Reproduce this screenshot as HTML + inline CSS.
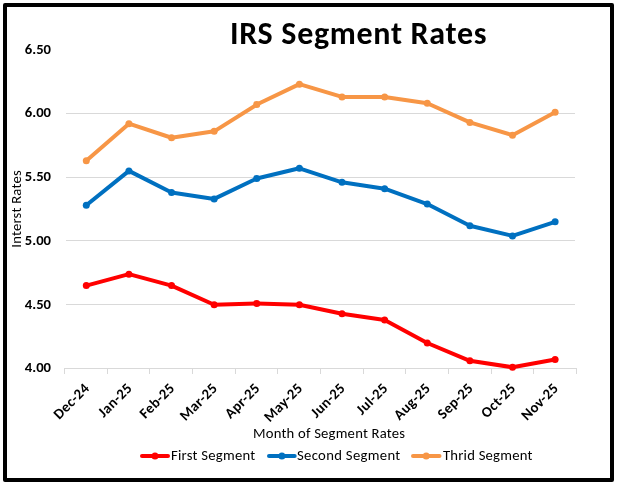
<!DOCTYPE html><html><head><meta charset="utf-8"><title>IRS Segment Rates</title>
<style>html,body{margin:0;padding:0;background:#fff;}svg{display:block;will-change:transform;}text{font-family:Carlito, 'Liberation Sans', sans-serif;}</style></head><body>
<svg width="617" height="484" viewBox="0 0 617 484">
<rect x="0" y="0" width="617" height="484" fill="#fff"/>
<line x1="66" y1="113.5" x2="575" y2="113.5" stroke="#D9D9D9" stroke-width="1"/>
<line x1="66" y1="177.5" x2="575" y2="177.5" stroke="#D9D9D9" stroke-width="1"/>
<line x1="66" y1="240.5" x2="575" y2="240.5" stroke="#D9D9D9" stroke-width="1"/>
<line x1="66" y1="304.5" x2="575" y2="304.5" stroke="#D9D9D9" stroke-width="1"/>
<line x1="64" y1="368.5" x2="577" y2="368.5" stroke="#D9D9D9" stroke-width="1"/>
<line x1="64.5" y1="368" x2="64.5" y2="374" stroke="#D9D9D9" stroke-width="1"/>
<line x1="107.5" y1="368" x2="107.5" y2="374" stroke="#D9D9D9" stroke-width="1"/>
<line x1="149.5" y1="368" x2="149.5" y2="374" stroke="#D9D9D9" stroke-width="1"/>
<line x1="192.5" y1="368" x2="192.5" y2="374" stroke="#D9D9D9" stroke-width="1"/>
<line x1="235.5" y1="368" x2="235.5" y2="374" stroke="#D9D9D9" stroke-width="1"/>
<line x1="277.5" y1="368" x2="277.5" y2="374" stroke="#D9D9D9" stroke-width="1"/>
<line x1="320.5" y1="368" x2="320.5" y2="374" stroke="#D9D9D9" stroke-width="1"/>
<line x1="363.5" y1="368" x2="363.5" y2="374" stroke="#D9D9D9" stroke-width="1"/>
<line x1="405.5" y1="368" x2="405.5" y2="374" stroke="#D9D9D9" stroke-width="1"/>
<line x1="448.5" y1="368" x2="448.5" y2="374" stroke="#D9D9D9" stroke-width="1"/>
<line x1="491.5" y1="368" x2="491.5" y2="374" stroke="#D9D9D9" stroke-width="1"/>
<line x1="533.5" y1="368" x2="533.5" y2="374" stroke="#D9D9D9" stroke-width="1"/>
<line x1="576.5" y1="368" x2="576.5" y2="374" stroke="#D9D9D9" stroke-width="1"/>
<text x="51" y="54" text-anchor="end" font-size="14.67" font-weight="bold" fill="#000" textLength="26.203" lengthAdjust="spacingAndGlyphs">6.50</text>
<text x="51" y="117" text-anchor="end" font-size="14.67" font-weight="bold" fill="#000" textLength="26.203" lengthAdjust="spacingAndGlyphs">6.00</text>
<text x="51" y="181" text-anchor="end" font-size="14.67" font-weight="bold" fill="#000" textLength="26.203" lengthAdjust="spacingAndGlyphs">5.50</text>
<text x="51" y="245" text-anchor="end" font-size="14.67" font-weight="bold" fill="#000" textLength="26.203" lengthAdjust="spacingAndGlyphs">5.00</text>
<text x="51" y="309" text-anchor="end" font-size="14.67" font-weight="bold" fill="#000" textLength="26.203" lengthAdjust="spacingAndGlyphs">4.50</text>
<text x="51" y="372" text-anchor="end" font-size="14.67" font-weight="bold" fill="#000" textLength="26.203" lengthAdjust="spacingAndGlyphs">4.00</text>
<text transform="translate(90.3,389.0) rotate(-45)" text-anchor="end" font-size="14.67" font-weight="bold" letter-spacing="0.3" fill="#000" textLength="43.906" lengthAdjust="spacingAndGlyphs">Dec-24</text>
<text transform="translate(132.9,389.0) rotate(-45)" text-anchor="end" font-size="14.67" font-weight="bold" letter-spacing="0.3" fill="#000" textLength="41.109" lengthAdjust="spacingAndGlyphs">Jan-25</text>
<text transform="translate(175.5,389.0) rotate(-45)" text-anchor="end" font-size="14.67" font-weight="bold" letter-spacing="0.3" fill="#000" textLength="42.906" lengthAdjust="spacingAndGlyphs">Feb-25</text>
<text transform="translate(218.2,389.0) rotate(-45)" text-anchor="end" font-size="14.67" font-weight="bold" letter-spacing="0.3" fill="#000" textLength="46.125" lengthAdjust="spacingAndGlyphs">Mar-25</text>
<text transform="translate(260.8,389.0) rotate(-45)" text-anchor="end" font-size="14.67" font-weight="bold" letter-spacing="0.3" fill="#000" textLength="42.828" lengthAdjust="spacingAndGlyphs">Apr-25</text>
<text transform="translate(303.4,389.0) rotate(-45)" text-anchor="end" font-size="14.67" font-weight="bold" letter-spacing="0.3" fill="#000" textLength="47.625" lengthAdjust="spacingAndGlyphs">May-25</text>
<text transform="translate(346.0,389.0) rotate(-45)" text-anchor="end" font-size="14.67" font-weight="bold" letter-spacing="0.3" fill="#000" textLength="41.734" lengthAdjust="spacingAndGlyphs">Jun-25</text>
<text transform="translate(388.6,389.0) rotate(-45)" text-anchor="end" font-size="14.67" font-weight="bold" letter-spacing="0.3" fill="#000" textLength="37.469" lengthAdjust="spacingAndGlyphs">Jul-25</text>
<text transform="translate(431.3,389.0) rotate(-45)" text-anchor="end" font-size="14.67" font-weight="bold" letter-spacing="0.3" fill="#000" textLength="44.844" lengthAdjust="spacingAndGlyphs">Aug-25</text>
<text transform="translate(473.9,389.0) rotate(-45)" text-anchor="end" font-size="14.67" font-weight="bold" letter-spacing="0.3" fill="#000" textLength="43.328" lengthAdjust="spacingAndGlyphs">Sep-25</text>
<text transform="translate(516.5,389.0) rotate(-45)" text-anchor="end" font-size="14.67" font-weight="bold" letter-spacing="0.3" fill="#000" textLength="41.922" lengthAdjust="spacingAndGlyphs">Oct-25</text>
<text transform="translate(559.1,389.0) rotate(-45)" text-anchor="end" font-size="14.67" font-weight="bold" letter-spacing="0.3" fill="#000" textLength="45.281" lengthAdjust="spacingAndGlyphs">Nov-25</text>
<polyline points="86.30,285.62 128.92,274.15 171.54,285.62 214.16,304.75 256.78,303.48 299.40,304.75 342.02,313.68 384.64,320.05 427.26,343.00 469.88,360.85 512.50,367.23 555.12,359.57" fill="none" stroke="#FF0000" stroke-width="4.0" stroke-linejoin="round" stroke-linecap="round"/>
<circle cx="86.30" cy="285.62" r="3.5" fill="#FF0000"/>
<circle cx="128.92" cy="274.15" r="3.5" fill="#FF0000"/>
<circle cx="171.54" cy="285.62" r="3.5" fill="#FF0000"/>
<circle cx="214.16" cy="304.75" r="3.5" fill="#FF0000"/>
<circle cx="256.78" cy="303.48" r="3.5" fill="#FF0000"/>
<circle cx="299.40" cy="304.75" r="3.5" fill="#FF0000"/>
<circle cx="342.02" cy="313.68" r="3.5" fill="#FF0000"/>
<circle cx="384.64" cy="320.05" r="3.5" fill="#FF0000"/>
<circle cx="427.26" cy="343.00" r="3.5" fill="#FF0000"/>
<circle cx="469.88" cy="360.85" r="3.5" fill="#FF0000"/>
<circle cx="512.50" cy="367.23" r="3.5" fill="#FF0000"/>
<circle cx="555.12" cy="359.57" r="3.5" fill="#FF0000"/>
<polyline points="86.30,205.30 128.92,170.88 171.54,192.55 214.16,198.92 256.78,178.52 299.40,168.32 342.02,182.35 384.64,188.72 427.26,204.03 469.88,225.70 512.50,235.90 555.12,221.87" fill="none" stroke="#0070C0" stroke-width="4.0" stroke-linejoin="round" stroke-linecap="round"/>
<circle cx="86.30" cy="205.30" r="3.5" fill="#0070C0"/>
<circle cx="128.92" cy="170.88" r="3.5" fill="#0070C0"/>
<circle cx="171.54" cy="192.55" r="3.5" fill="#0070C0"/>
<circle cx="214.16" cy="198.92" r="3.5" fill="#0070C0"/>
<circle cx="256.78" cy="178.52" r="3.5" fill="#0070C0"/>
<circle cx="299.40" cy="168.32" r="3.5" fill="#0070C0"/>
<circle cx="342.02" cy="182.35" r="3.5" fill="#0070C0"/>
<circle cx="384.64" cy="188.72" r="3.5" fill="#0070C0"/>
<circle cx="427.26" cy="204.03" r="3.5" fill="#0070C0"/>
<circle cx="469.88" cy="225.70" r="3.5" fill="#0070C0"/>
<circle cx="512.50" cy="235.90" r="3.5" fill="#0070C0"/>
<circle cx="555.12" cy="221.87" r="3.5" fill="#0070C0"/>
<polyline points="86.30,160.68 128.92,123.70 171.54,137.73 214.16,131.35 256.78,104.57 299.40,84.17 342.02,96.93 384.64,96.93 427.26,103.30 469.88,122.43 512.50,135.17 555.12,112.23" fill="none" stroke="#F79646" stroke-width="4.0" stroke-linejoin="round" stroke-linecap="round"/>
<circle cx="86.30" cy="160.68" r="3.5" fill="#F79646"/>
<circle cx="128.92" cy="123.70" r="3.5" fill="#F79646"/>
<circle cx="171.54" cy="137.73" r="3.5" fill="#F79646"/>
<circle cx="214.16" cy="131.35" r="3.5" fill="#F79646"/>
<circle cx="256.78" cy="104.57" r="3.5" fill="#F79646"/>
<circle cx="299.40" cy="84.17" r="3.5" fill="#F79646"/>
<circle cx="342.02" cy="96.93" r="3.5" fill="#F79646"/>
<circle cx="384.64" cy="96.93" r="3.5" fill="#F79646"/>
<circle cx="427.26" cy="103.30" r="3.5" fill="#F79646"/>
<circle cx="469.88" cy="122.43" r="3.5" fill="#F79646"/>
<circle cx="512.50" cy="135.17" r="3.5" fill="#F79646"/>
<circle cx="555.12" cy="112.23" r="3.5" fill="#F79646"/>
<text x="230" y="43.6" font-size="32" font-weight="bold" letter-spacing="0.69" fill="#000" textLength="257.172" lengthAdjust="spacingAndGlyphs">IRS Segment Rates</text>
<text transform="translate(21,208.9) rotate(-90)" text-anchor="middle" font-size="14.67" letter-spacing="0.25" fill="#000" textLength="77.828" lengthAdjust="spacingAndGlyphs">Interst Rates</text>
<text x="253" y="437.8" font-size="14.67" letter-spacing="0.21" fill="#000" textLength="152.219" lengthAdjust="spacingAndGlyphs">Month of Segment Rates</text>
<line x1="142.0" y1="456" x2="168.0" y2="456" stroke="#FF0000" stroke-width="4.0" stroke-linecap="round"/>
<circle cx="155.0" cy="456" r="3.5" fill="#FF0000"/>
<text x="171.0" y="460.1" font-size="14.67" letter-spacing="0.25" fill="#000" textLength="84.406" lengthAdjust="spacingAndGlyphs">First Segment</text>
<line x1="269.0" y1="456" x2="294.7" y2="456" stroke="#0070C0" stroke-width="4.0" stroke-linecap="round"/>
<circle cx="281.9" cy="456" r="3.5" fill="#0070C0"/>
<text x="297.0" y="460.1" font-size="14.67" letter-spacing="0.33" fill="#000" textLength="103.578" lengthAdjust="spacingAndGlyphs">Second Segment</text>
<line x1="413.0" y1="456" x2="439.5" y2="456" stroke="#F79646" stroke-width="4.0" stroke-linecap="round"/>
<circle cx="426.2" cy="456" r="3.5" fill="#F79646"/>
<text x="443.0" y="460.1" font-size="14.67" letter-spacing="0.22" fill="#000" textLength="89.594" lengthAdjust="spacingAndGlyphs">Thrid Segment</text>
<rect x="5" y="5" width="607" height="475" fill="none" stroke="#000" stroke-width="4" stroke-linejoin="round"/>
</svg></body></html>
